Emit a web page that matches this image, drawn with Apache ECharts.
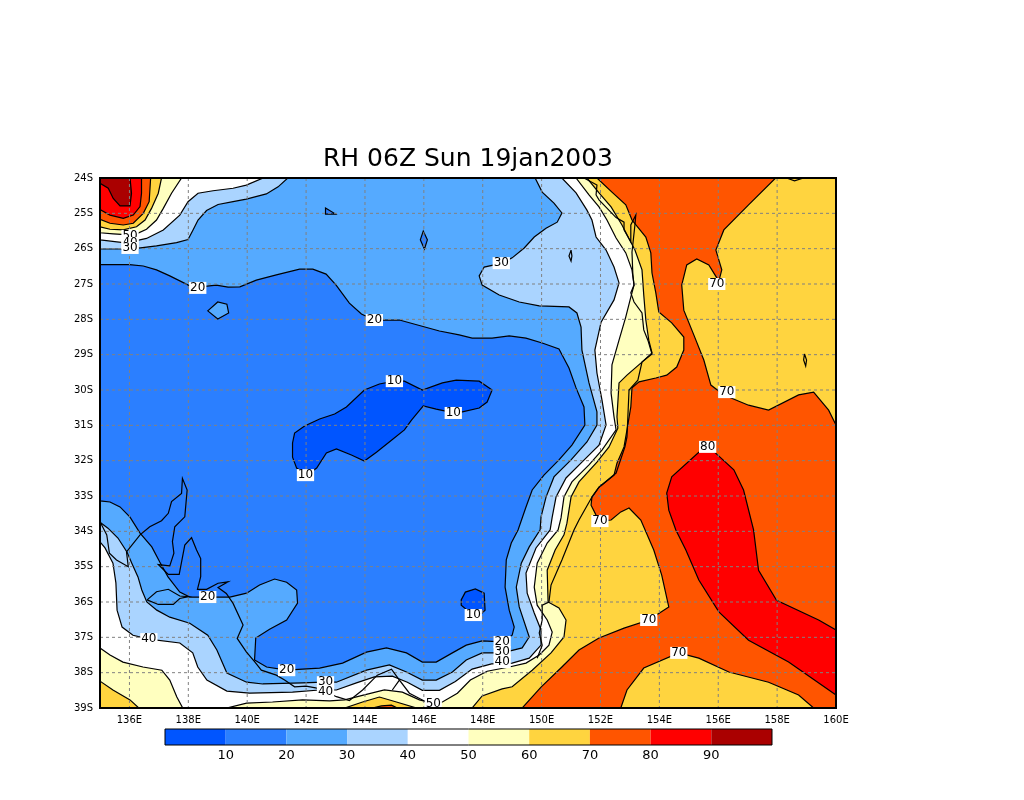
<!DOCTYPE html>
<html>
<head>
<meta charset="utf-8">
<title>RH 06Z Sun 19jan2003</title>
<style>
html, body { margin: 0; padding: 0; background: #fff; }
#main { width: 1024px; height: 800px; }
</style>
<script src="https://cdn.jsdelivr.net/npm/echarts@6/dist/echarts.min.js"></script>
</head>
<body>
<div id="main"></div>
<script>
// axis ticks
var lonTicks = [136, 138, 140, 142, 144, 146, 148, 150, 152, 154, 156, 158, 160];
var latTicks = [24, 25, 26, 27, 28, 29, 30, 31, 32, 33, 34, 35, 36, 37, 38, 39];

// colour bar
var barLevels = [0, 10, 20, 30, 40, 50, 60, 70, 80, 90, 100];
var barColors = ['#0055ff', '#2b7fff', '#55aaff', '#aad4ff', '#ffffff', '#ffffbf', '#ffd43f', '#ff5500', '#ff0000', '#aa0000'];

var wholeMap = [[135, 24], [160, 24], [160, 39], [135, 39]];

var band10to20 = [[135, 26.45], [136, 26.45], [136.47, 26.49], [136.92, 26.6], [137.37, 26.77], [138, 27.03], [138.33, 27.09], [138.95, 27.03],
    [139.35, 27.09], [139.75, 27.08], [140.31, 26.89], [140.99, 26.74], [141.78, 26.58], [142.23, 26.58], [142.68, 26.72], [143.02, 27.03],
    [143.47, 27.54], [143.88, 27.85], [144.32, 28.02], [145.17, 28.02], [146.53, 28.33], [147.2, 28.44], [147.64, 28.53], [148.32, 28.53],
    [148.9, 28.47], [149.47, 28.53], [150.02, 28.67], [150.59, 28.84], [150.93, 29.38], [151.17, 29.94], [151.44, 30.48], [151.47, 30.99],
    [151.03, 31.56], [150.59, 31.98], [150.08, 32.41], [149.68, 32.83], [149.47, 33.31], [149.2, 33.96], [148.97, 34.33], [148.8, 34.81],
    [148.76, 35.58], [148.9, 36.23], [149.07, 36.71], [149, 36.94], [148.66, 37.13], [147.98, 37.1], [147.44, 37.22], [146.97, 37.44],
    [146.42, 37.7], [145.95, 37.7], [145.41, 37.44], [144.73, 37.3], [144.05, 37.42], [143.24, 37.73], [142.46, 37.87], [141.88, 37.9],
    [141.34, 37.93], [140.66, 37.84], [140.25, 37.64], [140.29, 37.02], [140.76, 36.77], [141.34, 36.51], [141.71, 36.03], [141.68, 35.66],
    [141.34, 35.44], [140.93, 35.35], [140.42, 35.52], [139.98, 35.75], [139.41, 35.86], [138.66, 35.86], [138.05, 35.86], [137.71, 35.72],
    [137.31, 35.29], [137.03, 34.87], [136.76, 34.44], [136.36, 34.05], [136.02, 33.6], [135.68, 33.31], [135.34, 33.17], [135, 33.14]];
var islet20a = [[138.66, 27.76], [139, 27.51], [139.31, 27.57], [139.37, 27.82], [139, 27.99]];
var islet10a = [[142.66, 24.85], [143, 25.02], [142.66, 25.02]];
var islet10b = [[145.88, 25.75], [145.98, 25.5], [146.12, 25.75], [146.02, 26.01]];
var pocket0a = [[141.54, 31.5], [141.61, 31.22], [141.95, 31.02], [142.46, 30.82], [142.97, 30.68], [143.37, 30.48], [143.98, 30], [144.49, 29.83],
    [145, 29.75], [145.34, 29.75], [145.95, 30], [146.63, 29.8], [147.1, 29.72], [147.88, 29.75], [148.32, 30], [148.15, 30.34], [147.88, 30.51],
    [147.31, 30.62], [146.86, 30.62], [146.42, 30.54], [145.98, 30.45], [145.58, 30.85], [145.34, 31.13], [144.9, 31.42], [144.39, 31.76],
    [143.98, 32.01], [143.54, 31.84], [143.03, 31.67], [142.69, 31.78], [142.36, 32.21], [142.02, 32.41], [141.68, 32.21], [141.54, 31.9]];
var pocket0b = [[147.27, 35.94], [147.41, 35.72], [147.75, 35.63], [148.05, 35.75], [148.08, 36.23], [147.81, 36.43], [147.47, 36.23], [147.27, 36.09]];

// north west corner
var nw30 = [[135, 24], [135, 26.01], [135.79, 26.01], [136.24, 25.99], [136.92, 25.92], [137.6, 25.83], [137.99, 25.74], [138.16, 25.47], [138.33, 25.19],
    [138.62, 24.92], [139.01, 24.75], [139.52, 24.67], [139.97, 24.6], [140.65, 24.45], [141.05, 24.25], [141.38, 24]];
var nw40 = [[135, 24], [135, 25.75], [135.79, 25.83], [136.24, 25.77], [136.58, 25.71], [137.15, 25.47], [137.71, 25.05], [137.99, 24.67], [138.33, 24.43],
    [138.84, 24.36], [139.52, 24.29], [139.97, 24.2], [140.54, 24]];
var nw50 = [[135, 24], [135, 25.55], [135.45, 25.58], [136, 25.61], [136.24, 25.58], [136.58, 25.45], [136.92, 25.19], [137.15, 24.86], [137.43, 24.43], [137.77, 24]];
var nw60 = [[135, 24], [135, 25.38], [135.34, 25.45], [135.79, 25.47], [136.24, 25.38], [136.53, 25.19], [136.75, 24.86], [136.98, 24.43], [137.09, 24]];
var nw70 = [[135, 24], [135, 25.17], [135.34, 25.28], [135.79, 25.33], [136.13, 25.28], [136.47, 25], [136.67, 24.67], [136.72, 24]];
var nw80 = [[135, 24], [135, 24.89], [135.34, 25.05], [135.79, 25.14], [136.13, 25.05], [136.36, 24.81], [136.41, 24.43], [136.41, 24]];
var nw90 = [[135, 24], [135, 24.15], [135.28, 24.29], [135.45, 24.58], [135.68, 24.79], [136.02, 24.79], [136.07, 24.43], [136.02, 24]];

// coast, south and south west
var main30 = [[149.78, 24], [150.02, 24.4], [150.42, 24.71], [150.69, 24.99], [150.53, 25.25], [150.15, 25.42], [149.75, 25.67], [149.41, 25.98], [149, 26.26],
    [148.66, 26.41], [148.05, 26.52], [147.88, 26.77], [147.98, 27.03], [148.56, 27.31], [149.24, 27.51], [149.92, 27.62], [150.93, 27.65], [151.2, 27.82],
    [151.34, 28.22], [151.37, 28.87], [151.61, 29.8], [151.88, 30.62], [151.88, 30.99], [151.54, 31.47], [151, 31.98], [150.42, 32.46], [150.15, 33.03],
    [149.98, 33.6], [149.95, 33.96], [149.58, 34.44], [149.31, 34.9], [149.14, 35.58], [149.24, 36.14], [149.58, 36.99], [149.34, 37.3], [148.66, 37.44],
    [147.98, 37.44], [147.44, 37.64], [146.97, 37.98], [146.42, 38.21], [145.95, 38.21], [145.41, 37.98], [144.83, 37.78], [144.05, 37.93], [143.03, 38.27],
    [142.56, 38.27], [141.88, 38.29], [140.53, 38.32], [139.98, 38.27], [139.31, 38.01], [138.97, 37.36], [138.66, 36.94], [138.05, 36.6], [137.37, 36.43],
    [136.93, 36.23], [136.59, 36], [136.42, 35.66], [136.29, 35.29], [136.08, 34.9], [135.92, 34.59], [135.61, 34.19], [135.27, 33.91], [135, 33.74],
    [135, 39], [160, 39], [160, 24]];
var main40 = [[150.69, 24], [151.17, 24.42], [151.54, 24.91], [151.71, 25.19], [151.85, 25.67], [152.19, 26.04], [152.46, 26.52], [152.63, 26.97], [152.46, 27.45],
    [152.02, 28.08], [151.81, 28.87], [151.88, 29.52], [152.05, 30.28], [152.19, 30.99], [151.95, 31.56], [151.37, 32.04], [150.83, 32.49], [150.49, 33.03],
    [150.36, 33.6], [150.29, 33.96], [149.81, 34.47], [149.47, 35.18], [149.51, 35.75], [149.75, 36.31], [149.98, 36.79], [149.98, 37.22], [149.58, 37.59],
    [149, 37.73], [148.3, 37.75], [147.64, 37.9], [147.07, 38.25], [146.53, 38.5], [145.95, 38.5], [145.44, 38.27], [144.93, 38.1], [144.32, 38.12],
    [143.71, 38.29], [143.03, 38.49], [142.46, 38.49], [141.54, 38.55], [140.08, 38.58], [139.31, 38.52], [138.63, 38.21], [138.32, 37.84], [138.15, 37.44],
    [137.71, 37.16], [136.66, 37.05], [136.12, 36.94], [135.75, 36.71], [135.58, 36.23], [135.54, 35.46], [135.44, 34.9], [135.17, 34.47], [135, 34.3],
    [135, 39], [160, 39], [160, 24]];
var main50 = [[151.17, 24], [151.61, 24.48], [151.95, 24.82], [152.22, 25.19], [152.53, 25.7], [152.86, 26.12], [153.07, 26.6], [153.14, 27.03], [153.03, 27.37],
    [152.86, 27.93], [152.63, 28.59], [152.39, 29.29], [152.36, 30.09], [152.46, 30.76], [152.53, 31.13], [152.05, 31.7], [151.61, 32.12], [151.03, 32.6],
    [150.76, 33.03], [150.66, 33.62], [150.56, 33.96], [150.19, 34.33], [149.85, 34.9], [149.75, 35.58], [149.85, 36.09], [150.19, 36.51], [150.36, 36.85],
    [150.25, 37.22], [149.92, 37.5], [149.47, 37.73], [148.9, 37.84], [148.15, 37.96], [147.58, 38.21], [147.14, 38.58], [146.63, 38.83], [146.29, 38.86],
    [145.85, 38.77], [145.27, 38.55], [144.66, 38.49], [143.98, 38.63], [143.31, 38.77], [142.8, 38.8], [141.88, 38.77], [140.86, 38.83], [139.98, 38.86],
    [139.31, 39], [160, 39], [160, 24]];
var main60 = [[151.54, 24], [151.95, 24.42], [152.36, 24.82], [152.73, 25.33], [153.17, 26.04], [153.41, 26.6], [153.47, 27.31], [153.54, 28.02], [153.64, 28.59],
    [153.75, 28.95], [153.37, 29.24], [152.9, 29.58], [152.63, 29.8], [152.56, 30.76], [152.59, 31.08], [152.29, 31.61], [151.88, 32.04], [151.27, 32.6],
    [151, 33.03], [150.86, 33.77], [150.76, 34.1], [150.46, 34.53], [150.19, 35.1], [150.22, 36], [150.59, 36.17], [150.83, 36.51], [150.76, 36.99],
    [150.32, 37.44], [149.68, 37.93], [149, 38.4], [148.66, 38.46], [147.98, 38.66], [147.64, 39], [160, 39], [160, 24]];
var main70 = [[151.88, 24], [152.39, 24.4], [152.86, 24.76], [153.07, 25.19], [153.54, 25.67], [153.71, 26.12], [153.75, 26.69], [153.88, 27.25], [153.98, 27.79],
    [154.42, 28.1], [154.83, 28.5], [154.83, 28.87], [154.59, 29.35], [154.25, 29.58], [153.88, 29.66], [153.31, 29.77], [153.07, 29.94], [153.03, 30.48],
    [152.9, 31.13], [152.8, 31.61], [152.56, 32.07], [152.46, 32.41], [151.95, 32.75], [151.71, 33.03], [151.68, 33.26], [151.85, 33.54], [152.02, 33.71],
    [152.36, 33.68], [152.69, 33.45], [152.97, 33.34], [153.37, 33.68], [153.81, 34.53], [154.08, 35.24], [154.32, 36.14], [153.64, 36.51], [152.8, 36.74],
    [151.95, 37.02], [151.27, 37.36], [150.69, 37.84], [149.98, 38.41], [149.34, 39], [152.69, 39], [152.9, 38.49], [153.47, 37.87], [154.66, 37.44],
    [155.34, 37.59], [156.36, 37.98], [157.71, 38.27], [158.73, 38.63], [159.24, 39], [160, 39], [160, 30.99], [159.75, 30.57], [159.24, 30.06], [158.73, 30.14],
    [157.71, 30.57], [157.03, 30.43], [156.19, 30.14], [155.75, 29.86], [155.51, 29.15], [155.17, 28.44], [154.83, 27.74], [154.76, 27.03], [154.93, 26.46],
    [155.27, 26.29], [155.68, 26.46], [156.02, 26.92], [156.12, 26.6], [155.92, 26.04], [156.19, 25.47], [157.03, 24.76], [157.95, 24]];
var main80 = [[155.68, 31.61], [156.53, 32.26], [156.86, 32.83], [157.2, 33.96], [157.37, 35.1], [157.98, 35.95], [159.41, 36.51], [160, 36.79], [160, 38.63],
    [158.39, 37.7], [157.03, 37.08], [156.02, 36.28], [155.34, 35.38], [154.9, 34.53], [154.56, 33.96], [154.32, 33.4], [154.25, 32.92], [154.42, 32.46], [155.34, 31.76]];
var sw50 = [[135, 39], [135, 37.3], [135.34, 37.5], [135.78, 37.7], [136.46, 37.84], [137.1, 37.93], [137.37, 38.21], [137.61, 38.69], [137.81, 39]];
var sw60 = [[135, 39], [135, 38.24], [135.44, 38.49], [136.02, 38.77], [136.32, 39]];
var south60 = [[143.31, 39], [143.92, 38.83], [144.49, 38.69], [145.07, 38.83], [145.75, 39]];
var south70 = [[144.25, 39], [144.56, 38.94], [144.9, 38.92], [145.1, 39]];

// coastline
var coastEast = [[151.44, 24], [151.88, 24.2], [151.85, 24.48], [151.95, 24.62], [152.53, 25.12], [152.8, 25.25], [152.8, 25.47], [153.03, 25.81], [153.03, 25.33], [153.2, 25.05],
    [153.17, 25.33], [153.07, 26.1], [153.1, 26.74], [153.14, 27.03], [153.03, 27.25], [153.14, 27.51], [153.41, 27.82], [153.47, 28.3], [153.61, 28.59],
    [153.75, 28.98], [153.41, 29.21], [153.27, 29.72], [152.97, 30], [152.9, 31.33], [152.83, 31.61], [152.53, 32.35], [151.95, 32.75], [151.71, 33.03],
    [151.27, 33.68], [151.1, 33.96], [150.69, 34.81], [150.32, 35.52], [150.25, 36], [150.02, 36.09], [150.02, 36.51], [149.92, 36.88], [150.02, 37.22], [149.85, 37.59]];
var coastSouth = [[135, 33.73], [135.23, 34.1], [135.32, 34.62], [135.56, 34.81], [135.96, 35], [135.9, 34.58], [136.36, 34.1], [136.69, 33.87], [137.09, 33.7],
    [137.32, 33.49], [137.43, 33.16], [137.77, 32.93], [137.8, 32.5], [137.96, 32.83], [137.88, 33.59], [137.54, 33.87], [137.46, 34.29], [137.51, 34.62],
    [137.37, 34.98], [136.98, 34.94], [137.32, 35.22], [137.69, 35.22], [137.88, 34.39], [138.11, 34.18], [138.28, 34.53], [138.42, 34.77], [138.42, 35.28],
    [138.31, 35.64], [138.62, 35.64], [139.01, 35.47], [139.35, 35.43], [139.01, 35.59], [139.29, 35.76], [139.52, 36.04], [139.86, 36.65], [139.66, 37.03],
    [139.97, 37.41], [140.25, 37.69], [140.48, 37.93], [140.99, 38.07], [141.27, 38.21], [141.61, 38.4], [142, 38.38], [142.46, 38.45], [143.03, 38.68],
    [143.47, 38.79], [143.92, 38.49], [144.42, 38.07], [144.9, 37.9], [145.17, 38.21], [144.93, 38.49], [145.17, 38.21], [145.51, 38.58], [146.08, 38.83], [146.38, 38.87]];
var kangaroo = [[136.6, 35.94], [136.92, 35.71], [137.32, 35.64], [137.71, 35.83], [138, 35.85], [137.71, 35.9], [137.49, 36.07], [136.98, 36.07], [136.6, 35.94]];
var isletA = [[151, 26.04], [150.93, 26.21], [151, 26.35], [151.03, 26.21], [151, 26.04]];
var isletB = [[158.93, 28.98], [158.9, 29.15], [158.97, 29.32], [159, 29.15], [158.93, 28.98]];
var isletC = [[158.32, 24], [158.59, 24.08], [158.9, 24]];

// contour labels, [lon, deg south, value]
var contourLabels = [[136.02, 25.64, 50], [136.02, 25.84, 40], [136.02, 25.98, 30], [138.32, 27.11, 20], [144.32, 28.02, 20], [148.63, 26.41, 30],
    [155.95, 27, 70], [156.29, 30.06, 70], [145, 29.75, 10], [147, 30.65, 10], [141.98, 32.41, 10], [155.64, 31.61, 80], [151.98, 33.71, 70],
    [153.64, 36.51, 70], [154.66, 37.44, 70], [147.68, 36.37, 10], [138.66, 35.86, 20], [136.66, 37.05, 40], [141.34, 37.93, 20], [142.66, 38.27, 30],
    [142.66, 38.55, 40], [148.66, 37.13, 20], [148.66, 37.42, 30], [148.66, 37.7, 40], [146.32, 38.89, 50]];

// painted in this order, later rings cover earlier ones
var c = barColors;
var fillLayers = [
    [wholeMap, c[2], false],
    [band10to20, c[1], true], [islet20a, c[2], true], [islet10a, c[1], true], [islet10b, c[1], true],
    [pocket0a, c[0], true], [pocket0b, c[0], true],
    [nw30, c[3], true], [nw40, c[4], true], [nw50, c[5], true], [nw60, c[6], true], [nw70, c[7], true], [nw80, c[8], true], [nw90, c[9], true],
    [main30, c[3], true], [main40, c[4], true], [sw50, c[5], true], [sw60, c[6], true],
    [main50, c[5], true], [south60, c[6], true], [south70, c[7], true], [main60, c[6], true], [main70, c[7], true], [main80, c[8], true]
];
var coastLines = [coastEast, coastSouth, kangaroo, isletA, isletB, isletC];

var labelFont = '"DejaVu Sans", sans-serif';
var myChart = echarts.init(document.getElementById('main'));

function ringPoints(ring, api) {
    var pts = [];
    for (var i = 0; i < ring.length; i++) {
        pts.push(api.coord(ring[i]));
    }
    return pts;
}

var gridLines = [];
for (var i = 0; i < lonTicks.length; i++) gridLines.push([[lonTicks[i], 24], [lonTicks[i], 39]]);
for (var j = 0; j < latTicks.length; j++) gridLines.push([[135, latTicks[j]], [160, latTicks[j]]]);

myChart.setOption({
    animation: false,
    backgroundColor: '#fff',
    title: {
        text: 'RH 06Z Sun 19jan2003',
        left: 463,
        top: 142,
        textAlign: 'center',
        textStyle: { color: '#000', fontFamily: labelFont, fontWeight: 'normal', fontSize: 25 }
    },
    grid: [
        { left: 100, top: 178, width: 736, height: 530 },
        { left: 165, top: 729, width: 607, height: 16 }
    ],
    xAxis: [
        {
            type: 'value', gridIndex: 0, min: 135, max: 160, interval: 1,
            axisLine: { show: false }, axisTick: { show: false }, splitLine: { show: false },
            axisLabel: {
                color: '#000', fontSize: 10, fontFamily: labelFont, margin: 7, showMinLabel: false,
                formatter: function (v) { return lonTicks.indexOf(v) >= 0 ? v + 'E' : ''; }
            }
        },
        {
            type: 'value', gridIndex: 1, min: barLevels[0], max: barLevels[barLevels.length - 1], interval: 10,
            axisLine: { show: false }, axisTick: { show: false }, splitLine: { show: false },
            axisLabel: {
                color: '#000', fontSize: 13, fontFamily: labelFont, margin: 4,
                formatter: function (v) { return (v === 0 || v === 100) ? '' : v; }
            }
        }
    ],
    yAxis: [
        {
            type: 'value', gridIndex: 0, min: 24, max: 39, interval: 1, inverse: true,
            axisLine: { show: false }, axisTick: { show: false }, splitLine: { show: false },
            axisLabel: { color: '#000', fontSize: 10, fontFamily: labelFont, margin: 7, formatter: '{value}S' }
        },
        { type: 'value', gridIndex: 1, min: 0, max: 1, show: false }
    ],
    series: [
        {
            // filled contours
            type: 'custom', xAxisIndex: 0, yAxisIndex: 0, coordinateSystem: 'cartesian2d', clip: true, silent: true, z: 2,
            data: fillLayers.map(function (d, i) { return [i]; }),
            encode: { x: [], y: [] },
            renderItem: function (params, api) {
                var layer = fillLayers[params.dataIndex];
                return {
                    type: 'polygon',
                    shape: { points: ringPoints(layer[0], api) },
                    style: { fill: layer[1], stroke: layer[2] ? '#000' : null, lineWidth: 1.2 }
                };
            }
        },
        {
            // dashed map grid
            type: 'custom', xAxisIndex: 0, yAxisIndex: 0, clip: true, silent: true, z: 3,
            data: gridLines.map(function (d, i) { return [i]; }),
            encode: { x: [], y: [] },
            renderItem: function (params, api) {
                var seg = gridLines[params.dataIndex];
                var a = api.coord(seg[0]), b = api.coord(seg[1]);
                return {
                    type: 'line',
                    shape: { x1: a[0], y1: a[1], x2: b[0], y2: b[1] },
                    style: { stroke: '#808080', lineWidth: 1, lineDash: [3, 3] }
                };
            }
        },
        {
            // coast
            type: 'custom', xAxisIndex: 0, yAxisIndex: 0, clip: true, silent: true, z: 4,
            data: coastLines.map(function (d, i) { return [i]; }),
            encode: { x: [], y: [] },
            renderItem: function (params, api) {
                return {
                    type: 'polyline',
                    shape: { points: ringPoints(coastLines[params.dataIndex], api) },
                    style: { fill: null, stroke: '#000', lineWidth: 1.2 }
                };
            }
        },
        {
            // contour labels
            type: 'custom', xAxisIndex: 0, yAxisIndex: 0, clip: false, silent: true, z: 5,
            data: contourLabels,
            encode: { x: 0, y: 1 },
            renderItem: function (params, api) {
                var p = api.coord([api.value(0), api.value(1)]);
                return {
                    type: 'text',
                    x: p[0], y: p[1],
                    style: {
                        text: String(api.value(2)), fill: '#000', font: '12px ' + labelFont,
                        align: 'center', verticalAlign: 'middle', backgroundColor: '#fff', padding: [0, 1, 0, 1]
                    }
                };
            }
        },
        {
            // frame
            type: 'custom', xAxisIndex: 0, yAxisIndex: 0, clip: false, silent: true, z: 6,
            data: [[0]],
            encode: { x: [], y: [] },
            renderItem: function (params, api) {
                return {
                    type: 'polygon',
                    shape: { points: ringPoints(wholeMap, api) },
                    style: { fill: null, stroke: '#000', lineWidth: 2 }
                };
            }
        },
        {
            // colour bar boxes
            type: 'custom', xAxisIndex: 1, yAxisIndex: 1, clip: false, silent: true, z: 2,
            data: barColors.map(function (d, i) { return [i]; }),
            encode: { x: [], y: [] },
            renderItem: function (params, api) {
                var i = params.dataIndex;
                var a = api.coord([barLevels[i], 1]), b = api.coord([barLevels[i + 1], 0]);
                return {
                    type: 'rect',
                    shape: { x: a[0], y: a[1], width: b[0] - a[0], height: b[1] - a[1] },
                    style: { fill: barColors[i] }
                };
            }
        },
        {
            // colour bar outline
            type: 'custom', xAxisIndex: 1, yAxisIndex: 1, clip: false, silent: true, z: 3,
            data: [[0]],
            encode: { x: [], y: [] },
            renderItem: function (params, api) {
                var a = api.coord([barLevels[0], 1]), b = api.coord([barLevels[barLevels.length - 1], 0]);
                return {
                    type: 'rect',
                    shape: { x: a[0], y: a[1], width: b[0] - a[0], height: b[1] - a[1] },
                    style: { fill: null, stroke: '#000', lineWidth: 1 }
                };
            }
        }
    ]
});
</script>
</body>
</html>
